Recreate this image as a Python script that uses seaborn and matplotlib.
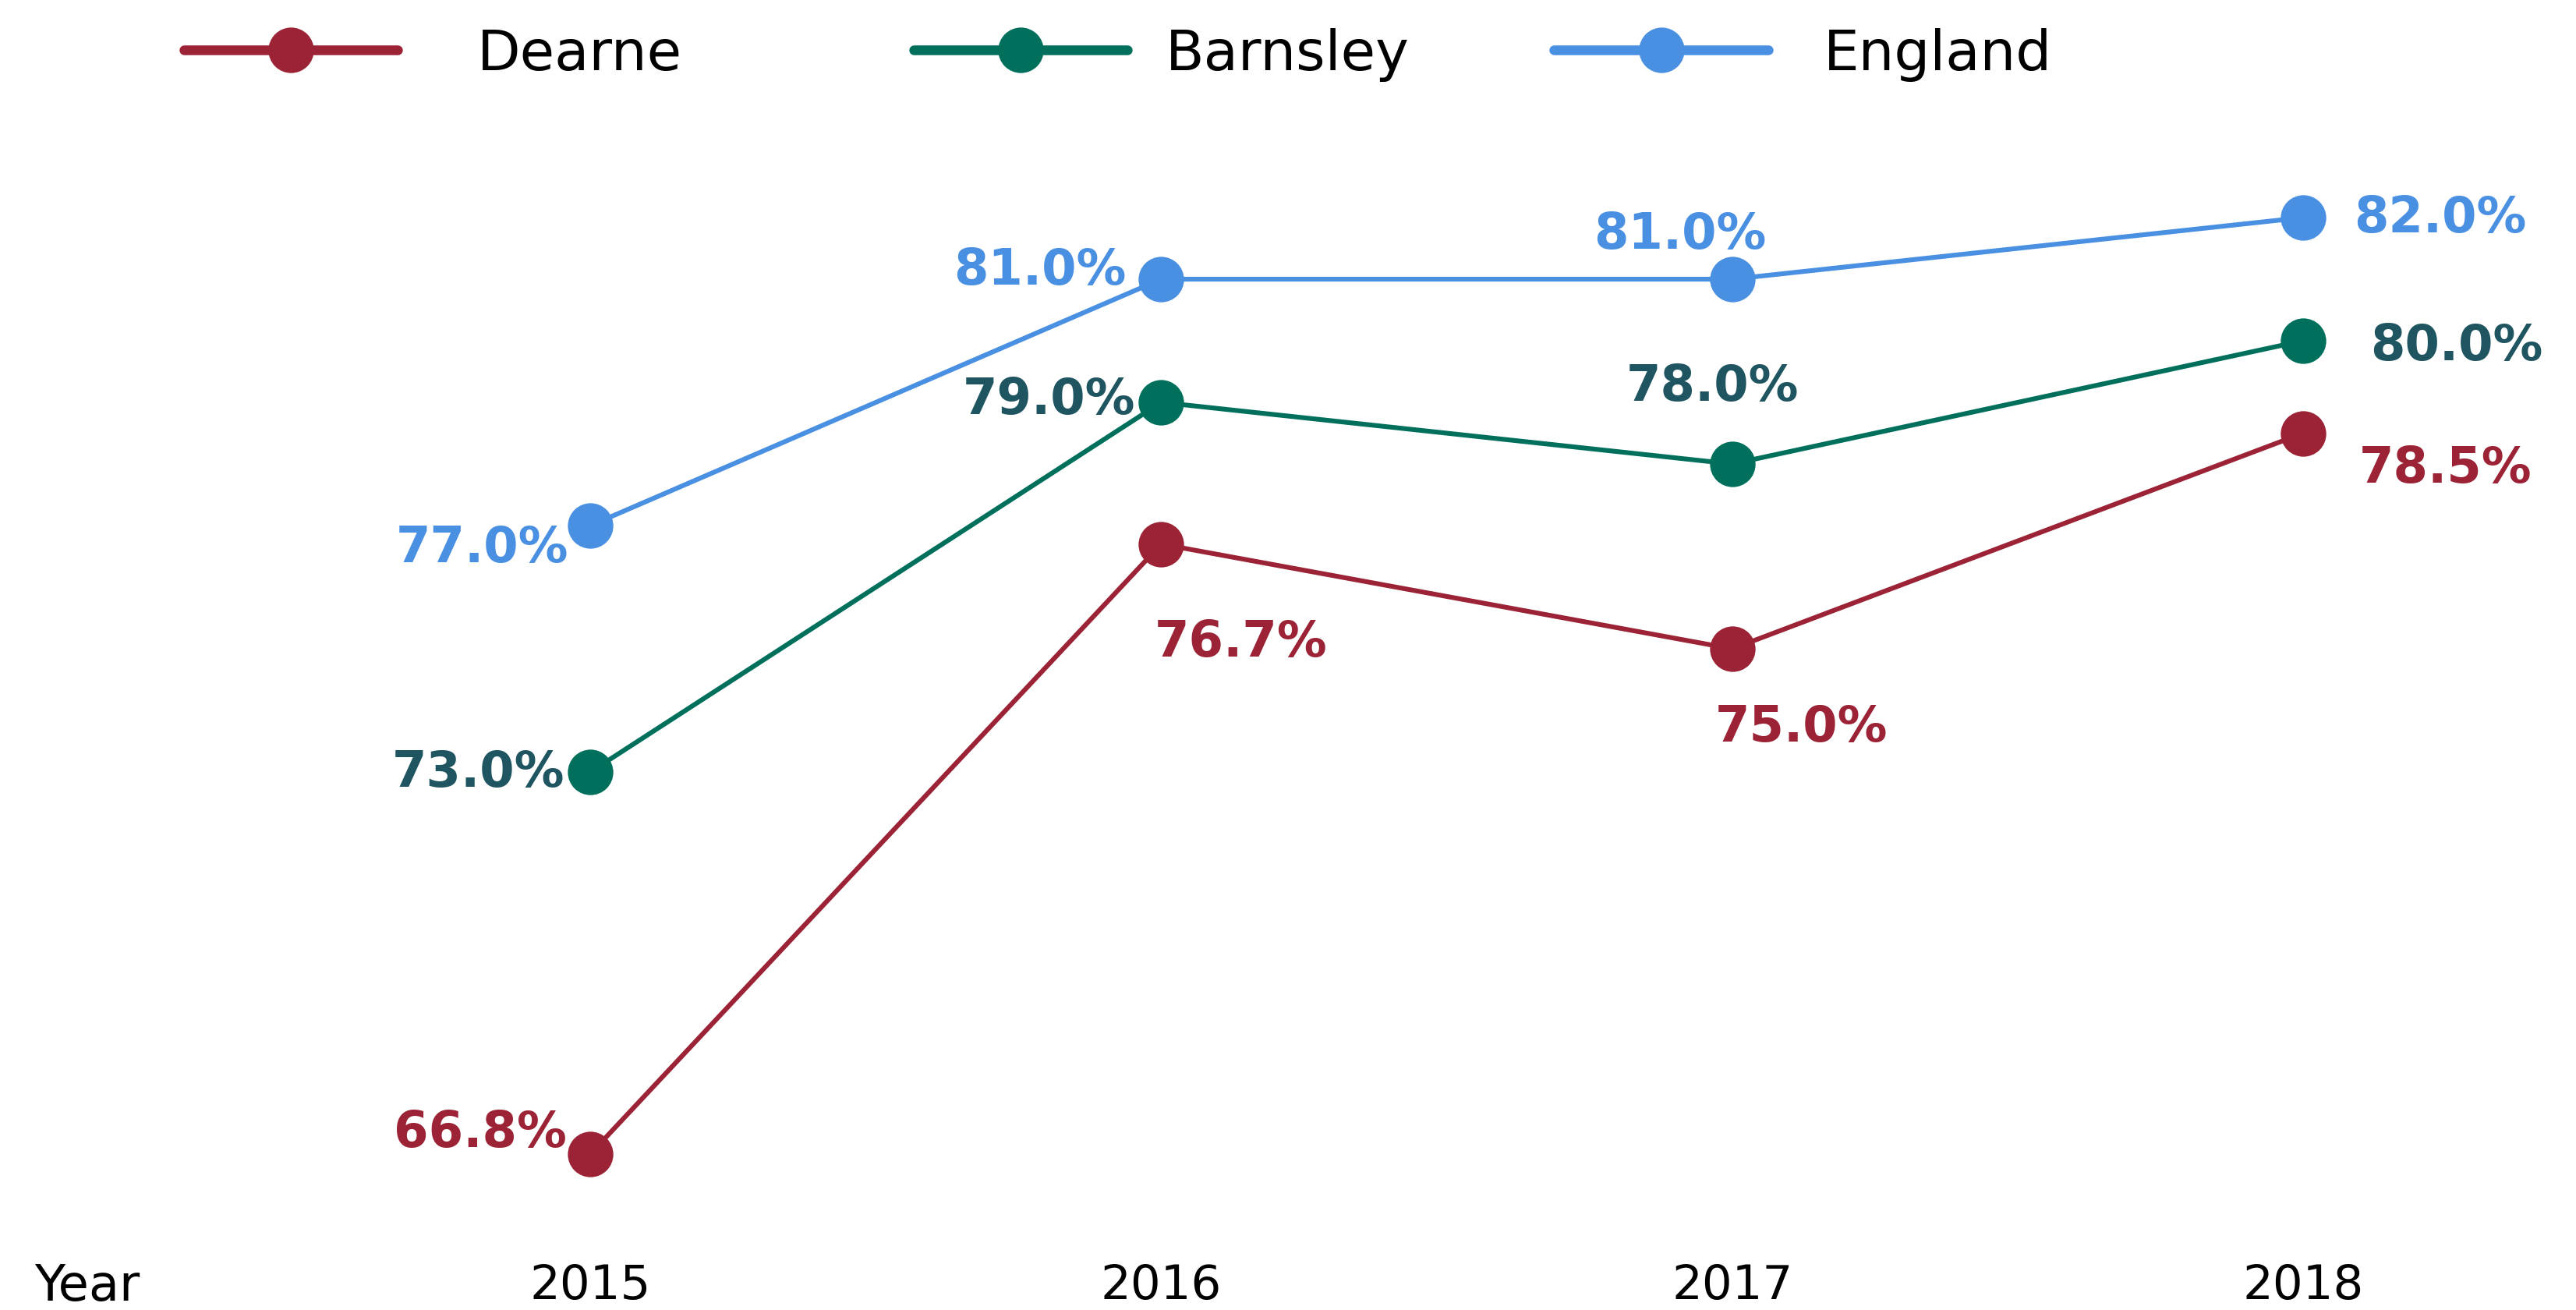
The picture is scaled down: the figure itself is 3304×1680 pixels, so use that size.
import pandas as pd
import matplotlib.pyplot as plt
import seaborn as sns

years = [2015, 2016, 2017, 2018]
dearne = [66.8, 76.7, 75.0, 78.5]
barnsley = [73.0, 79.0, 78.0, 80.0]
england = [77.0, 81.0, 81.0, 82.0]
areas = ["Dearne", "Barnsley", "England"]

line_colors = {"Dearne": "#9B2335", "Barnsley": "#006F5B", "England": "#4A90E2"}
text_colors = {"Dearne": "#9B2335", "Barnsley": "#1F5560", "England": "#4A90E2"}

# label placement: (dx, dy) in points, horizontal alignment
offsets = {
    "Dearne": [(-11, 10, "right"), (-3, -45, "left"), (-8, -36, "left"), (26, -16, "left")],
    "Barnsley": [(-12, 0, "right"), (-12, 1.5, "right"), (-9, 36, "center"), (31, -2, "left")],
    "England": [(-10, -10, "right"), (-16, 4.5, "right"), (-24, 21, "center"), (23.5, 0, "left")],
}
# legend entry: left anchor in figure fraction, gap between handle and text
legend_pos = {"Dearne": (0.0714, 1.4), "Barnsley": (0.3546, 0.67), "England": (0.6033, 0.99)}

df = pd.DataFrame({
    "Year": years * 3,
    "value": dearne + barnsley + england,
    "Area": ["Dearne"] * 4 + ["Barnsley"] * 4 + ["England"] * 4,
})

sns.set_style("white")
plt.rcParams["font.family"] = ["DejaVu Sans"]
plt.rcParams["text.color"] = "black"
plt.rcParams["xtick.color"] = "black"

fig = plt.figure(figsize=(16.52, 8.405), dpi=200)
ax = fig.add_axes([0.0, 0.075, 1.0, 0.925])

sns.lineplot(data=df, x="Year", y="value", hue="Area", hue_order=areas,
             palette=line_colors, marker="o", markersize=21, markeredgewidth=0,
             linewidth=2.2, ax=ax)

for area, vals in zip(areas, [dearne, barnsley, england]):
    for yr, v, (dx, dy, ha) in zip(years, vals, offsets[area]):
        ax.annotate(f"{v:.1f}%", (yr, v), xytext=(dx, dy), textcoords="offset points",
                    ha=ha, va="center", fontsize=23, fontweight="bold",
                    color=text_colors[area])

ax.set_xlim(2013.966, 2018.478)
ax.set_ylim(65.863, 85.544)
ax.set_xticks(years)
ax.set_xticklabels([str(y) for y in years], fontsize=22)
ax.tick_params(axis="x", length=0, pad=34, labelcolor="black")
for lbl in ax.get_xticklabels():
    lbl.set_va("center")
ax.set_yticks([])
ax.set_xlabel("")
ax.set_ylabel("")
sns.despine(ax=ax, left=True, bottom=True)

handles, labels = ax.get_legend_handles_labels()
ax.get_legend().remove()
for h, lab in zip(handles, labels):
    x0, pad = legend_pos[lab]
    leg = fig.legend([h], [lab], loc="center left", bbox_to_anchor=(x0, 0.958),
                     frameon=False, fontsize=26, handlelength=3.8,
                     handletextpad=pad, borderpad=0, borderaxespad=0)
    for lh in leg.legend_handles:
        lh.set_linewidth(4.5)
    for t in leg.get_texts():
        t.set_color("black")

fig.text(0.0338, 0.0184, "Year", ha="center", va="center", fontsize=23)

plt.savefig("out.png", dpi=200)
